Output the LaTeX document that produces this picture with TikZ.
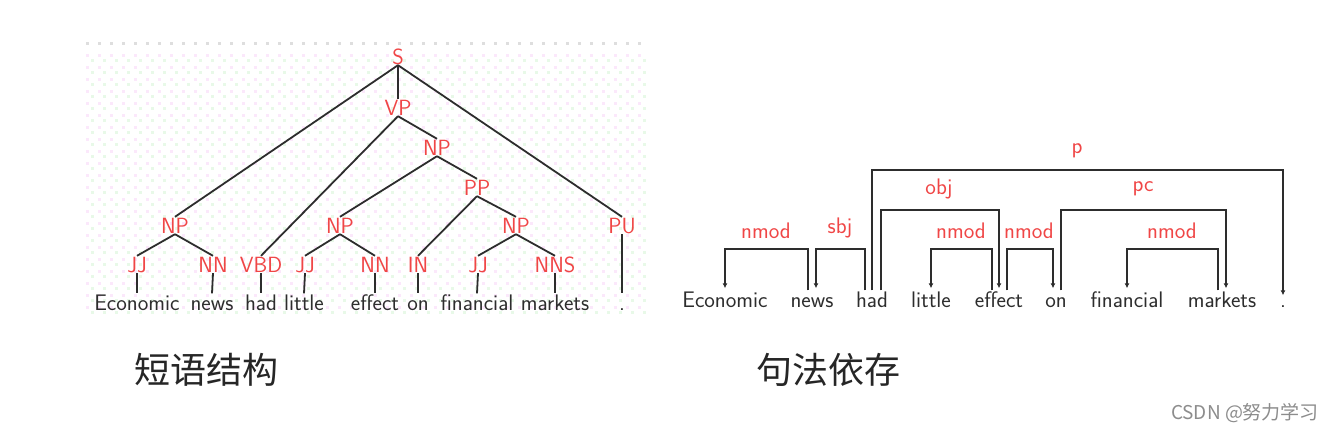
\documentclass[tikz,border=0pt]{standalone}
\usepackage{fontspec}
\usetikzlibrary{arrows.meta,positioning}
\newfontfamily\cjkfont{Noto Sans CJK SC}
\definecolor{catred}{RGB}{240,70,70}
\definecolor{inkgray}{RGB}{45,45,45}
\definecolor{dotpink}{RGB}{251,232,251}
\definecolor{dotgreen}{RGB}{232,249,232}
\definecolor{dotgray}{RGB}{222,222,222}
\tikzset{
  cat/.style={text=catred, font=\sffamily\fontsize{22}{24}\selectfont, inner sep=1pt,
    anchor=base, text height=15pt, text depth=0pt},
  word/.style={text=inkgray, font=\sffamily\fontsize{22.5}{26}\selectfont, inner sep=1pt,
    anchor=base, text height=15.5pt, text depth=4pt},
  rel/.style={text=catred, font=\sffamily\fontsize{22.5}{24}\selectfont, inner sep=1pt},
  branch/.style={draw=inkgray, line width=1.8pt},
  deparc/.style={draw=inkgray, line width=1.5pt, -{Latex[length=5pt,width=5pt]}, shorten >=2pt},
  caption/.style={font=\cjkfont\fontsize{36}{40}\selectfont, text=black!85},
  watermark/.style={font=\cjkfont\fontsize{19}{21}\selectfont, text=black!45}
}

\begin{document}
\begin{tikzpicture}[x=1pt, y=-1pt]
  \useasboundingbox[fill=white] (0,0) rectangle (1334,434);
  % dotted background of the tree panel
  \foreach \i in {0,...,46} {
    \fill[dotgray] (86+12*\i,42) rectangle ++(2.5,2.5);
    \foreach \j in {1,...,22} {
      \fill[dotpink] (86+12*\i,42+12*\j) rectangle ++(2.5,2.5);
      \fill[dotgreen] (91+12*\i,47+12*\j) rectangle ++(2.5,2.5);
    }
  }

  % phrase structure tree
  \node[cat] (S) at (398,64) {S};
  \node[cat] (VP) at (398,115) {VP};
  \node[cat] (NPobj) at (437,155) {NP};
  \node[cat] (PP) at (477,195) {PP};
  \node[cat] (NPsubj) at (175,233) {NP};
  \node[cat] (NPlit) at (340,233) {NP};
  \node[cat] (NPmkt) at (516,233) {NP};
  \node[cat] (PU) at (622,233) {PU};
  \node[cat] (JJa) at (137,272) {JJ};
  \node[cat] (NNa) at (213,272) {NN};
  \node[cat] (VBD) at (261,272) {VBD};
  \node[cat] (JJb) at (305,272) {JJ};
  \node[cat] (NNb) at (375,272) {NN};
  \node[cat] (IN) at (418,272) {IN};
  \node[cat] (JJc) at (478,272) {JJ};
  \node[cat] (NNS) at (555,272) {NNS};
  \node[word] (tEconomic) at (137,310) {Economic};
  \node[word] (tnews) at (212,310) {news};
  \node[word] (thad) at (261,310) {had};
  \node[word] (tlittle) at (304,310) {little};
  \node[word] (teffect) at (375,310) {effect};
  \node[word] (ton) at (418,310) {on};
  \node[word] (tfinancial) at (477,310) {financial};
  \node[word] (tmarkets) at (555,310) {markets};
  \node[word] (tdot) at (622,310) {.};

  \draw[branch] (S.south) -- (NPsubj.north);
  \draw[branch] (S.south) -- (VP.north);
  \draw[branch] (S.south) -- (PU.north);
  \draw[branch] (VP.south) -- (VBD.north);
  \draw[branch] (VP.south) -- (NPobj.north);
  \draw[branch] (NPobj.south) -- (NPlit.north);
  \draw[branch] (NPobj.south) -- (PP.north);
  \draw[branch] (PP.south) -- (IN.north);
  \draw[branch] (PP.south) -- (NPmkt.north);
  \draw[branch] (NPsubj.south) -- (JJa.north);
  \draw[branch] (NPsubj.south) -- (NNa.north);
  \draw[branch] (NPlit.south) -- (JJb.north);
  \draw[branch] (NPlit.south) -- (NNb.north);
  \draw[branch] (NPmkt.south) -- (JJc.north);
  \draw[branch] (NPmkt.south) -- (NNS.north);
  \foreach \c/\w in {JJa/tEconomic, NNa/tnews, VBD/thad, JJb/tlittle, NNb/teffect,
                     IN/ton, JJc/tfinancial, NNS/tmarkets, PU/tdot}
    \draw[branch] (\c.south) -- (\w.north);

  % dependency structure
  \node[word] (dEconomic) at (725,307) {Economic};
  \node[word] (dnews) at (812,307) {news};
  \node[word] (dhad) at (872,307) {had};
  \node[word] (dlittle) at (931,307) {little};
  \node[word] (deffect) at (999,307) {effect};
  \node[word] (don) at (1056,307) {on};
  \node[word] (dfinancial) at (1127,307) {financial};
  \node[word] (dmarkets) at (1222,307) {markets};
  \node[word] (ddot) at (1283,307) {.};
  \coordinate (lowlv) at (0,249);
  \coordinate (midlv) at (0,210);
  \coordinate (toplv) at (0,170);

  \draw[deparc] ([xshift=-4pt]dnews.north) -- ([xshift=-4pt]dnews.north |- lowlv) -| (dEconomic.north);
  \draw[deparc] ([xshift=-7pt]dhad.north) -- ([xshift=-7pt]dhad.north |- lowlv) -| ([xshift=4pt]dnews.north);
  \draw[deparc] ([xshift=9pt]dhad.north) -- ([xshift=9pt]dhad.north |- midlv) -| (deffect.north);
  \draw[deparc] (dhad.north) -- (dhad.north |- toplv) -| ([yshift=-7pt]ddot.north);
  \draw[deparc] ([xshift=-7pt]deffect.north) -- ([xshift=-7pt]deffect.north |- lowlv) -| (dlittle.north);
  \draw[deparc] ([xshift=8pt]deffect.north) -- ([xshift=8pt]deffect.north |- lowlv) -| ([xshift=-3pt]don.north);
  \draw[deparc] ([xshift=5pt]don.north) -- ([xshift=5pt]don.north |- midlv) -| ([xshift=4pt]dmarkets.north);
  \draw[deparc] ([xshift=-4pt]dmarkets.north) -- ([xshift=-4pt]dmarkets.north |- lowlv) -| (dfinancial.north);

  \node[rel] (rnmoda) at (766,231) {nmod};
  \node[rel] (rsbj) at (840,228) {sbj};
  \node[rel] (robj) at (939,189) {obj};
  \node[rel] (rnmodb) at (961,231) {nmod};
  \node[rel] (rnmodc) at (1029,231) {nmod};
  \node[rel] (rp) at (1077,151) {p};
  \node[rel] (rpc) at (1143,189) {pc};
  \node[rel] (rnmodd) at (1172,231) {nmod};

  % captions
  \node[caption] (captree) at (206,370) {短语结构};
  \node[caption] (capdep) at (828,370) {句法依存};
  \node[watermark] (mark) at (1245,413) {CSDN @努力学习};
\end{tikzpicture}
\end{document}
